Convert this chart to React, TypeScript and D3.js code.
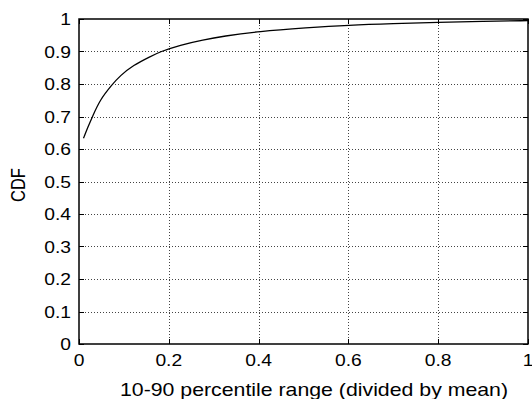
import { useRef, useEffect } from "react";
import * as d3 from "d3";

// CDF
const rangeValues = [0.01, 0.02, 0.03, 0.047, 0.073, 0.091, 0.121, 0.158, 0.18, 0.225, 0.277, 0.321, 0.4, 0.507, 0.6, 0.7, 0.8, 0.9, 1.0];
const cdfValues = [0.633, 0.668, 0.70, 0.752, 0.797, 0.825, 0.858, 0.884, 0.899, 0.920, 0.936, 0.947, 0.962, 0.973, 0.981, 0.986, 0.99, 0.993, 0.995];
const xTicks = [0, 0.2, 0.4, 0.6, 0.8, 1];
const yTicks = [0, 0.1, 0.2, 0.3, 0.4, 0.5, 0.6, 0.7, 0.8, 0.9, 1];

export default function App() {
  const svgRef = useRef<SVGSVGElement>(null);

  useEffect(() => {
    if (!svgRef.current) return;
    const svg = d3.select(svgRef.current);
    svg.selectAll("*").remove();

    const width = 532;
    const height = 399;
    const margin = { top: 19, right: 4, bottom: 55, left: 79 };
    const font = "'Liberation Sans', Arial, sans-serif";
    const stretch = 1.12; // the original text is a bit wider than Arial

    const x = d3.scaleLinear().domain([0, 1]).range([margin.left, width - margin.right]);
    const y = d3.scaleLinear().domain([0, 1]).range([height - margin.bottom, margin.top]);

    const x0 = x(0), x1 = x(1), y0 = y(0), y1 = y(1);

    // grid
    const grid = svg.append("g").attr("stroke", "#444").attr("stroke-width", 1).attr("stroke-dasharray", "1,2");
    xTicks.slice(1, -1).forEach((t) => {
      grid.append("line").attr("x1", Math.round(x(t)) + 0.5).attr("x2", Math.round(x(t)) + 0.5).attr("y1", y1).attr("y2", y0);
    });
    yTicks.slice(1, -1).forEach((t) => {
      grid.append("line").attr("y1", Math.round(y(t)) + 0.5).attr("y2", Math.round(y(t)) + 0.5).attr("x1", x0).attr("x2", x1);
    });

    // ticks (inward, on all four sides)
    const tk = svg.append("g").attr("stroke", "#000").attr("stroke-width", 1);
    const len = 5;
    xTicks.forEach((t) => {
      const px = Math.round(x(t)) + 0.5;
      tk.append("line").attr("x1", px).attr("x2", px).attr("y1", y0).attr("y2", y0 - len);
      tk.append("line").attr("x1", px).attr("x2", px).attr("y1", y1).attr("y2", y1 + len);
    });
    yTicks.forEach((t) => {
      const py = Math.round(y(t)) + 0.5;
      tk.append("line").attr("x1", x0).attr("x2", x0 + len).attr("y1", py).attr("y2", py);
      tk.append("line").attr("x1", x1).attr("x2", x1 - len).attr("y1", py).attr("y2", py);
    });

    // curve
    const line = d3.line<number>()
      .x((_, i) => x(rangeValues[i]))
      .y((d) => y(d))
      .curve(d3.curveBasis);
    svg.append("path")
      .attr("d", line(cdfValues))
      .attr("fill", "none")
      .attr("stroke", "#000")
      .attr("stroke-width", 1.3);

    // frame
    svg.append("rect")
      .attr("x", x0).attr("y", y1)
      .attr("width", x1 - x0).attr("height", y0 - y1)
      .attr("fill", "none").attr("stroke", "#000").attr("stroke-width", 1.5);

    // tick labels
    xTicks.forEach((t) => {
      svg.append("text")
        .attr("transform", `translate(${x(t)},${y0 + 21.5}) scale(${stretch},1)`)
        .attr("text-anchor", "middle")
        .attr("font-family", font).attr("font-size", 17.2)
        .text(String(t));
    });
    yTicks.forEach((t) => {
      svg.append("text")
        .attr("transform", `translate(${x0 - 8},${y(t) + 6.3}) scale(${stretch},1)`)
        .attr("text-anchor", "end")
        .attr("font-family", font).attr("font-size", 17.2)
        .text(String(t));
    });

    // axis titles
    svg.append("text")
      .attr("x", 120).attr("y", 396)
      .attr("textLength", 388)
      .attr("lengthAdjust", "spacingAndGlyphs")
      .attr("font-family", font).attr("font-size", 18.5)
      .text("10-90 percentile range (divided by mean)");
    svg.append("text")
      .attr("transform", `translate(25,185) scale(1.25,1) rotate(-90)`)
      .attr("text-anchor", "middle")
      .attr("font-family", font).attr("font-size", 16.5)
      .text("CDF");
  }, []);

  return (
    <svg
      ref={svgRef}
      width={532}
      height={399}
      style={{ position: "absolute", left: 0, top: 0, background: "#fff" }}
    />
  );
}
